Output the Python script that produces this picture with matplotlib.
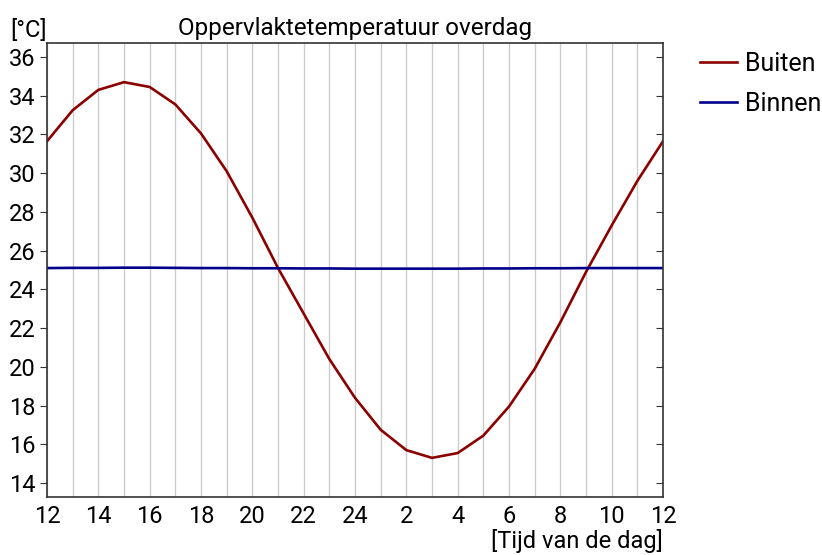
import matplotlib.pyplot as plt
import numpy as np

plt.rcParams['font.family'] = ['Roboto', 'DejaVu Sans']

# Hours from 12:00 to 12:00 the next day
hours = np.arange(12, 37)
tick_hours = np.arange(12, 37, 2)
tick_labels = ['12', '14', '16', '18', '20', '22', '24', '2', '4', '6', '8', '10', '12']

buiten = [31.65, 33.25, 34.3, 34.7, 34.45, 33.55, 32.05, 30.1, 27.7, 25.1, 22.75, 20.4,
          18.4, 16.75, 15.7, 15.3, 15.55, 16.45, 17.95, 19.9, 22.3, 24.9, 27.3, 29.6, 31.65]
binnen = [25.10, 25.11, 25.11, 25.12, 25.12, 25.11, 25.10, 25.10, 25.09, 25.09, 25.08, 25.08,
          25.07, 25.07, 25.07, 25.07, 25.07, 25.08, 25.08, 25.09, 25.09, 25.10, 25.10, 25.10, 25.10]

fig = plt.figure(figsize=(8.22, 5.55), dpi=100)
ax = fig.add_axes([0.0572, 0.1045, 0.7494, 0.818])

ax.plot(hours, buiten, color='#8b0000', lw=1.9, label='Buiten')
ax.plot(hours, binnen, color='#00008b', lw=1.9, label='Binnen')

ax.set_xlim(12, 36)
ax.set_ylim(13.28, 36.72)
ax.set_xticks(np.arange(12, 37), minor=True)
ax.set_xticks(tick_hours)
ax.set_xticklabels(tick_labels)
ax.set_yticks(np.arange(14, 37, 2))
ax.grid(True, axis='x', which='both', color='#cccccc', lw=1)
ax.tick_params(axis='x', which='both', length=0, labelsize=17, pad=6)
ax.tick_params(axis='y', which='major', direction='out', length=5, labelsize=17,
               color='#333333')
for s in ax.spines.values():
    s.set_color('#333333')
    s.set_linewidth(1.2)

# ticks on the right side point inward
rax = ax.secondary_yaxis('right')
rax.set_yticks(np.arange(14, 37, 2))
rax.tick_params(direction='in', length=5, labelright=False, color='#333333')
rax.spines['right'].set_visible(False)

ax.set_title('Oppervlaktetemperatuur overdag', fontsize=17.5, pad=6)
fig.text(0.012, 0.945, '[°C]', fontsize=17, va='center', ha='left')
fig.text(0.8066, 0.025, '[Tijd van de dag]', fontsize=17, va='center', ha='right')

ax.legend(loc='upper left', bbox_to_anchor=(0.851, 0.907), bbox_transform=fig.transFigure,
          frameon=False, fontsize=18, handlelength=1.5, handletextpad=0.3,
          labelspacing=0.65, borderaxespad=0, borderpad=0)

fig.savefig('out.png', dpi=100)
